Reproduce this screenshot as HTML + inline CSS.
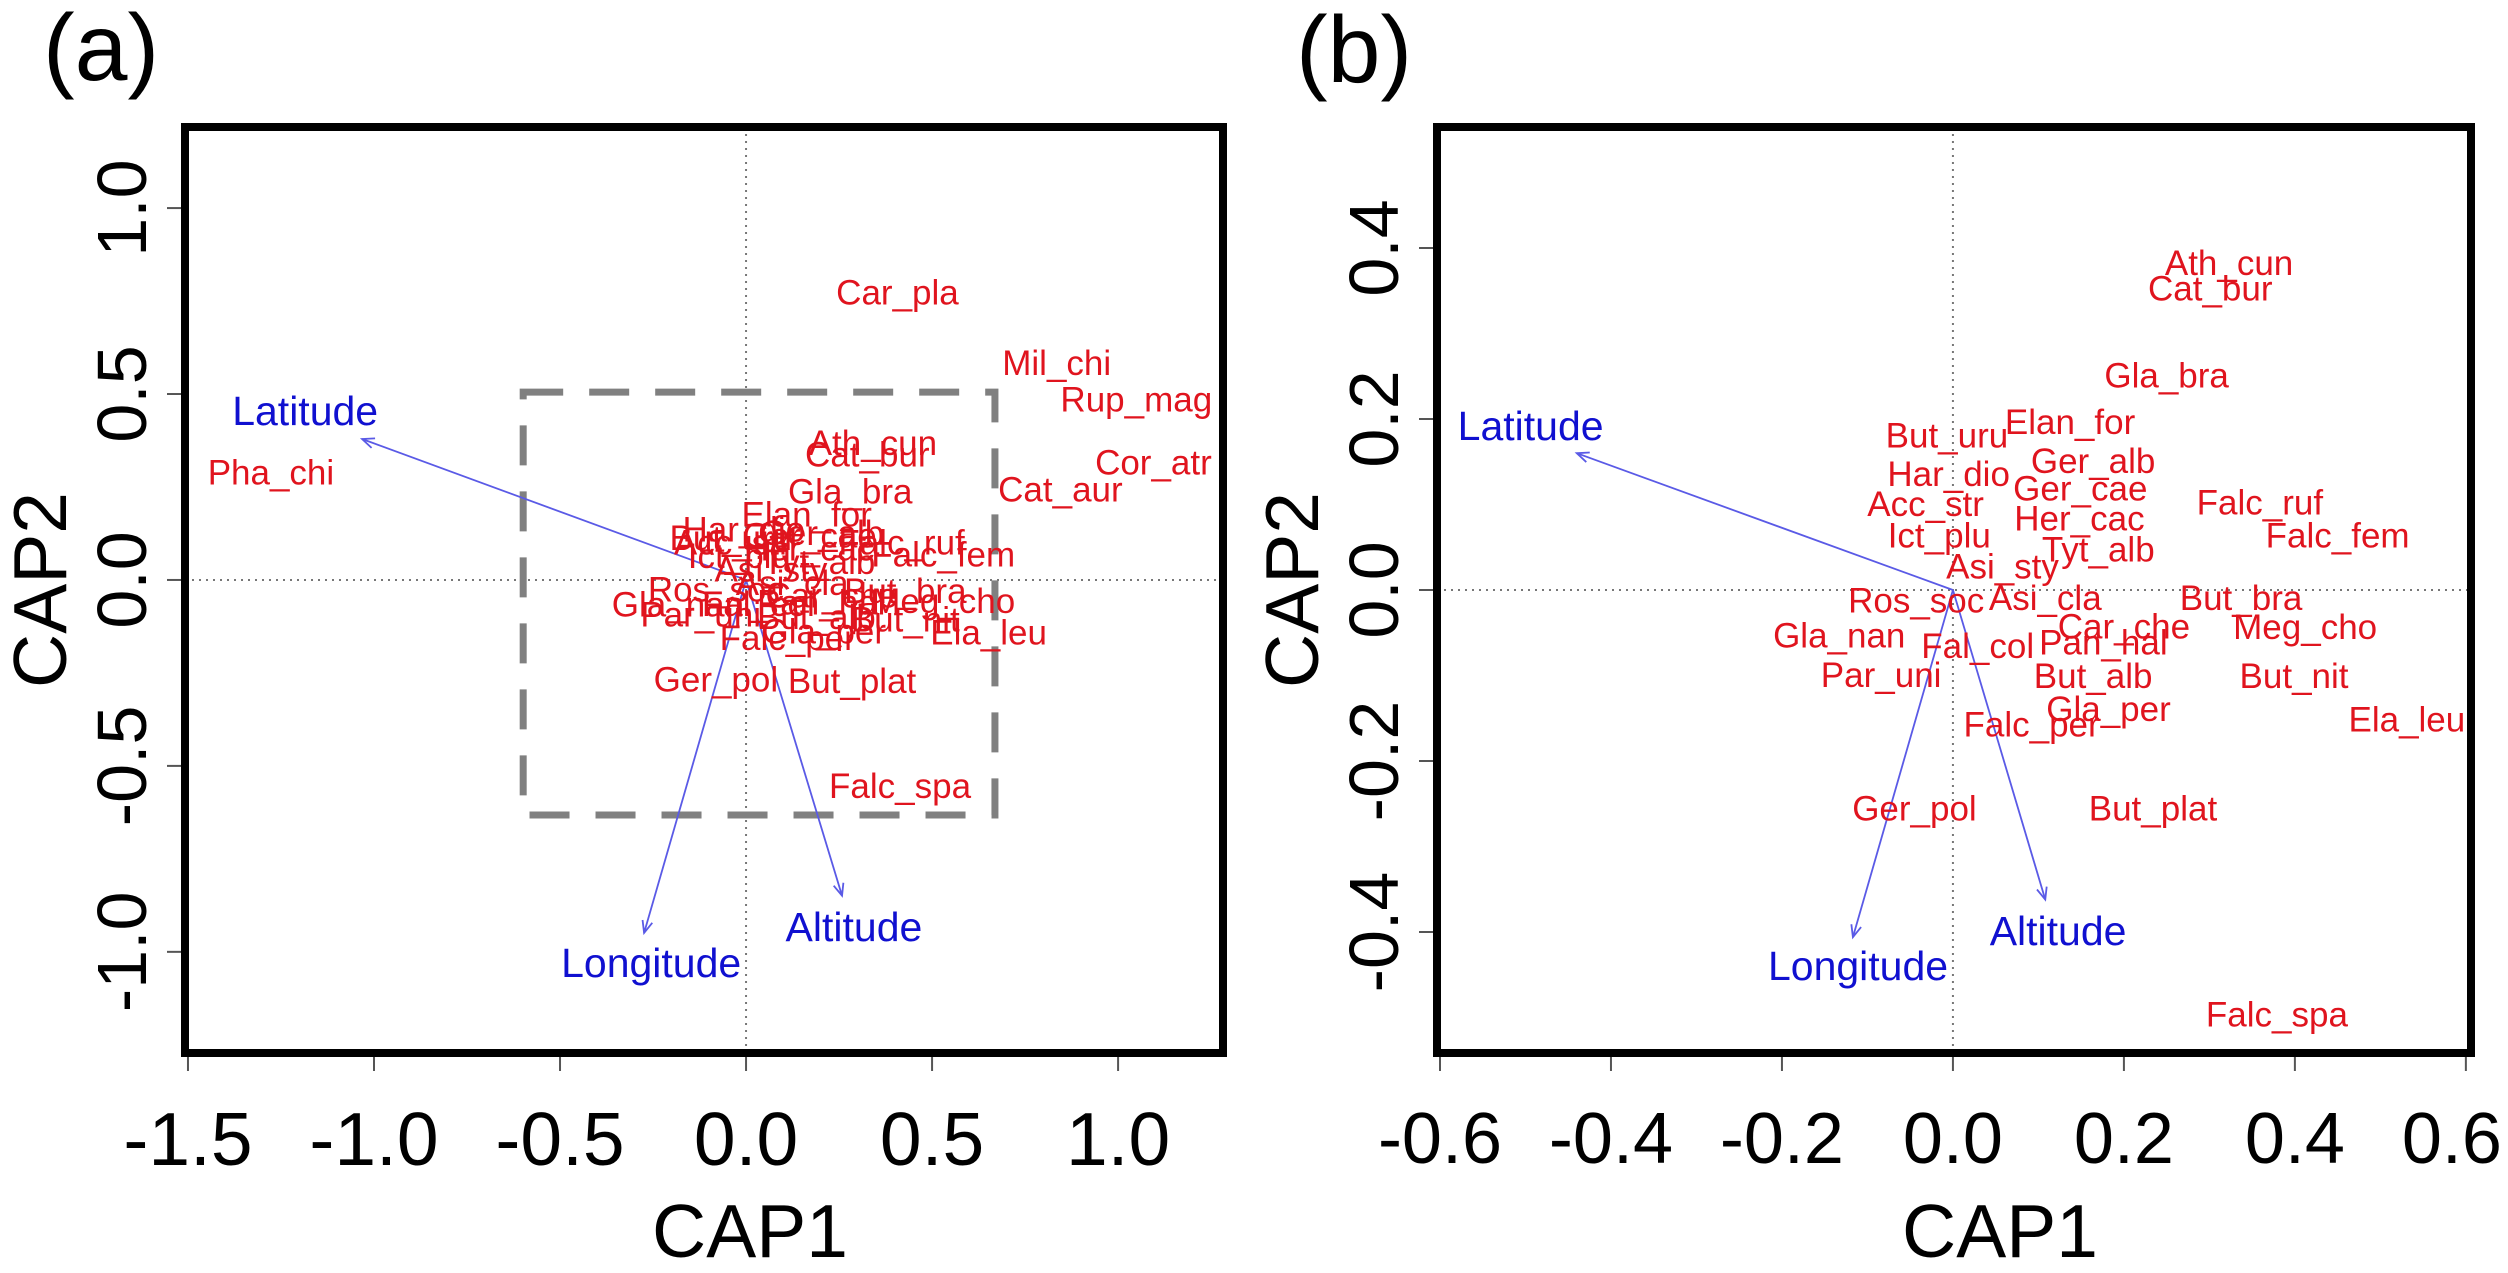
<!DOCTYPE html>
<html><head><meta charset="utf-8"><style>
html,body{margin:0;padding:0;background:#fff;}
svg{display:block;font-family:"Liberation Sans",Arial,sans-serif;}
</style></head><body>
<svg id="fig" width="2508" height="1273" viewBox="0 0 2508 1273" xmlns="http://www.w3.org/2000/svg">
<rect width="2508" height="1273" fill="#fff"/>
<text x="43" y="80" font-size="95">(a)</text>
<text x="1296" y="82" font-size="95">(b)</text>
</svg>
<script>
// ---------- Panel A data ----------
const aSpecies = ["Car_pla","Mil_chi","Rup_mag","Cor_atr","Cat_aur","Pha_chi","Ath_cun","Cat_bur","Gla_bra","Elan_for","Ger_alb","But_uru","Falc_ruf","Falc_fem","Har_dio","Ger_cae","Acc_str","Her_cac","Ict_plu","Tyt_alb","Asi_sty","Ros_soc","Asi_cla","But_bra","Car_che","Meg_cho","Gla_nan","Fal_col","Pan_hal","But_alb","Par_uni","But_nit","Gla_per","Falc_per","Ela_leu","Ger_pol","But_plat","Falc_spa"];
const aX = [0.407,0.835,1.049,1.095,0.845,-1.277,0.341,0.326,0.280,0.163,0.204,-0.041,0.418,0.530,-0.006,0.171,-0.037,0.170,-0.018,0.196,0.067,-0.081,0.124,0.428,0.230,0.530,-0.183,0.033,0.202,0.189,-0.122,0.428,0.209,0.112,0.652,-0.081,0.285,0.414];
const aY = [0.771,0.582,0.484,0.314,0.242,0.288,0.367,0.336,0.237,0.175,0.125,0.112,0.099,0.067,0.135,0.118,0.100,0.083,0.063,0.047,0.027,-0.027,-0.010,-0.031,-0.043,-0.058,-0.067,-0.066,-0.062,-0.101,-0.094,-0.108,-0.140,-0.157,-0.143,-0.269,-0.273,-0.556];
const aArrowNames = ["Latitude","Longitude","Altitude"];
const aArrowX = [-1.032,-0.274,0.258];
const aArrowY = [0.379,-0.949,-0.849];
const aArrowLabelX = [-1.185,-0.255,0.290];
const aArrowLabelY = [0.454,-1.030,-0.933];
const aXTicks = [-1.5,-1.0,-0.5,0.0,0.5,1.0];
const aXTickLabels = ["-1.5","-1.0","-0.5","0.0","0.5","1.0"];
const aYTicks = [-1.0,-0.5,0.0,0.5,1.0];
const aYTickLabels = ["-1.0","-0.5","0.0","0.5","1.0"];
const aBoxX = [-0.599,0.669];
const aBoxY = [-0.632,0.505];

// ---------- Panel B data ----------
const bSpecies = ["Ath_cun","Cat_bur","Gla_bra","Elan_for","But_uru","Ger_alb","Har_dio","Ger_cae","Acc_str","Falc_ruf","Her_cac","Ict_plu","Falc_fem","Tyt_alb","Asi_sty","Ros_soc","Asi_cla","But_bra","Car_che","Meg_cho","Gla_nan","Fal_col","Pan_hal","But_alb","Par_uni","But_nit","Gla_per","Falc_per","Ela_leu","Ger_pol","But_plat","Falc_spa"];
const bX = [0.323,0.301,0.250,0.137,-0.007,0.164,-0.005,0.149,-0.032,0.359,0.148,-0.016,0.450,0.170,0.058,-0.043,0.108,0.337,0.200,0.412,-0.133,0.029,0.176,0.164,-0.084,0.399,0.182,0.092,0.531,-0.045,0.234,0.379];
const bY = [0.382,0.352,0.250,0.196,0.180,0.150,0.135,0.118,0.100,0.102,0.083,0.063,0.063,0.047,0.027,-0.013,-0.010,-0.010,-0.043,-0.044,-0.054,-0.066,-0.062,-0.101,-0.100,-0.101,-0.140,-0.158,-0.152,-0.256,-0.256,-0.497];
const bArrowNames = ["Latitude","Longitude","Altitude"];
const bArrowX = [-0.440,-0.117,0.108];
const bArrowY = [0.160,-0.406,-0.362];
const bArrowLabelX = [-0.494,-0.111,0.123];
const bArrowLabelY = [0.192,-0.440,-0.399];
const bXTicks = [-0.6,-0.4,-0.2,0.0,0.2,0.4,0.6];
const bXTickLabels = ["-0.6","-0.4","-0.2","0.0","0.2","0.4","0.6"];
const bYTicks = [-0.4,-0.2,0.0,0.2,0.4];
const bYTickLabels = ["-0.4","-0.2","0.0","0.2","0.4"];

const NS = "http://www.w3.org/2000/svg";
const svg = document.getElementById('fig');
function mk(tag, attrs, parent){
  const e = document.createElementNS(NS, tag);
  for (const k in attrs) e.setAttribute(k, attrs[k]);
  (parent||svg).appendChild(e);
  return e;
}

function drawPanel(p){
  const sx = v => p.left + (v - p.xmin) / (p.xmax - p.xmin) * (p.right - p.left);
  const sy = v => p.bottom - (v - p.ymin) / (p.ymax - p.ymin) * (p.bottom - p.top);
  const g = mk('g', {});
  
  

  const zx = mk('line', {x1:sx(0), x2:sx(0), y1:p.top, y2:p.bottom, stroke:'#777', 'stroke-width':2, 'stroke-dasharray':'2,5'}, g);
  
  
  const zy = mk('line', {x1:p.left, x2:p.right, y1:sy(0), y2:sy(0), stroke:'#777', 'stroke-width':2, 'stroke-dasharray':'2,5'}, g);
  
  

  if (p.boxX){
    const r = mk('rect', {x:sx(p.boxX[0]), y:sy(p.boxY[1]), width:sx(p.boxX[1])-sx(p.boxX[0]), height:sy(p.boxY[0])-sy(p.boxY[1]), fill:'none', stroke:'#808080', 'stroke-width':7, 'stroke-dasharray':'40,26'}, g);
    
    
  }

  for (let i=0;i<p.arrowNames.length;i++){
    const x1=sx(0), y1=sy(0), x2=sx(p.arrowX[i]), y2=sy(p.arrowY[i]);
    const ang = Math.atan2(y2-y1, x2-x1), L=13, a=0.4;
    const ag = mk('g', {}, g);
    
    
    mk('line', {x1:x1, y1:y1, x2:x2, y2:y2, stroke:'#5a5ae6', 'stroke-width':1.8}, ag);
    mk('polyline', {points:(x2-L*Math.cos(ang-a))+','+(y2-L*Math.sin(ang-a))+' '+x2+','+y2+' '+(x2-L*Math.cos(ang+a))+','+(y2-L*Math.sin(ang+a)), fill:'none', stroke:'#5a5ae6', 'stroke-width':1.8}, ag);
    const t = mk('text', {x:sx(p.arrowLabelX[i]), y:sy(p.arrowLabelY[i]), 'text-anchor':'middle', 'dominant-baseline':'central', 'font-size':41, fill:'#1010d0'}, g);
    t.textContent = p.arrowNames[i];
    
    
  }

  for (let i=0;i<p.species.length;i++){
    const t = mk('text', {x:sx(p.sxv[i]), y:sy(p.syv[i]), 'text-anchor':'middle', 'dominant-baseline':'central', 'font-size':35, fill:'#e0141e'}, g);
    t.textContent = p.species[i];
    
    
  }

  const fr = mk('rect', {x:p.left, y:p.top, width:p.right-p.left, height:p.bottom-p.top, fill:'none', stroke:'#000', 'stroke-width':8}, g);
  
  

  for (let i=0;i<p.xTicks.length;i++){
    const X = sx(p.xTicks[i]);
    const tk = mk('line', {x1:X, x2:X, y1:p.bottom+4, y2:p.bottom+18, stroke:'#555', 'stroke-width':2}, g);
    
    
    let tx = X;
    if (p.id === 'panel-b' && i === p.xTicks.length-1) tx = X - 14;
    const t = mk('text', {x:tx, y:1139, 'text-anchor':'middle', 'dominant-baseline':'central', 'font-size':p.xFont}, g);
    t.textContent = p.xTickLabels[i];
    
    
  }
  for (let i=0;i<p.yTicks.length;i++){
    const Y = sy(p.yTicks[i]);
    const tk = mk('line', {x1:p.left-18, x2:p.left-4, y1:Y, y2:Y, stroke:'#555', 'stroke-width':2}, g);
    
    
    const cx = p.left - 63;
    const t = mk('text', {x:cx, y:Y, 'text-anchor':'middle', 'dominant-baseline':'central', 'font-size':70, transform:'rotate(-90 '+cx+' '+Y+')'}, g);
    t.textContent = p.yTickLabels[i];
    
    
  }
  const xt = mk('text', {x:(p.left+p.right)/2 + 46, y:1231, 'text-anchor':'middle', 'dominant-baseline':'central', 'font-size':75}, g);
  xt.textContent = 'CAP1';
  
  
  const ycx = p.left - 145, ycy = (p.top+p.bottom)/2;
  const yt = mk('text', {x:ycx, y:ycy, 'text-anchor':'middle', 'dominant-baseline':'central', 'font-size':75, transform:'rotate(-90 '+ycx+' '+ycy+')'}, g);
  yt.textContent = 'CAP2';
  
  
}

drawPanel({id:'panel-a', left:185, right:1223, top:127, bottom:1053, xmin:-1.508, xmax:1.282, ymin:-1.272, ymax:1.218,
  species:aSpecies, sxv:aX, syv:aY, arrowNames:aArrowNames, arrowX:aArrowX, arrowY:aArrowY,
  arrowLabelX:aArrowLabelX, arrowLabelY:aArrowLabelY, xTicks:aXTicks, xTickLabels:aXTickLabels,
  yTicks:aYTicks, yTickLabels:aYTickLabels, boxX:aBoxX, boxY:aBoxY, xFont:75});
drawPanel({id:'panel-b', left:1437, right:2471, top:127, bottom:1053, xmin:-0.6035, xmax:0.606, ymin:-0.5415, ymax:0.5415,
  species:bSpecies, sxv:bX, syv:bY, arrowNames:bArrowNames, arrowX:bArrowX, arrowY:bArrowY,
  arrowLabelX:bArrowLabelX, arrowLabelY:bArrowLabelY, xTicks:bXTicks, xTickLabels:bXTickLabels,
  yTicks:bYTicks, yTickLabels:bYTickLabels, xFont:72});
</script>
</body></html>
